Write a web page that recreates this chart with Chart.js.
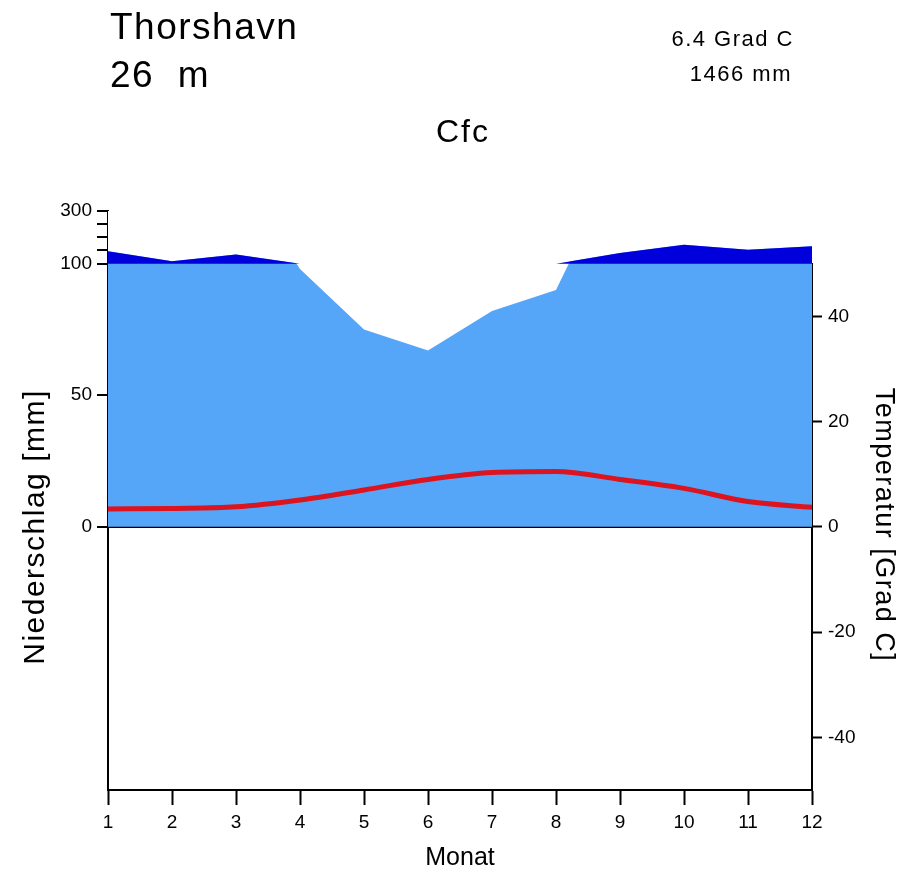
<!DOCTYPE html>
<html>
<head>
<meta charset="utf-8">
<script src="https://cdn.jsdelivr.net/npm/chart.js@4.4.1/dist/chart.umd.min.js"></script>
<style>
  html, body { margin: 0; padding: 0; background: #ffffff; }
  #wrap { width: 901px; height: 874px; position: relative; }
  canvas { display: block; }
</style>
</head>
<body>
<div id="wrap"><canvas id="c" width="901" height="874"></canvas></div>
<script>
// ---- data ----
const months = ['1','2','3','4','5','6','7','8','9','10','11','12'];
const precipitation = [147, 109, 135, 98, 75, 67, 82, 90, 140, 172, 153, 166];   // mm
const temperature   = [3.4, 3.5, 3.8, 5.1, 7.0, 9.0, 10.3, 10.5, 9.0, 7.3, 4.8, 3.7]; // °C
const precipTickValues = [0, 50, 100, 150, 200, 250, 300];
const precipTickLabels = ['0', '50', '100', '', '', '', '300'];
const tempTickValues = [-40, -20, 0, 20, 40];

const stationName = 'Thorshavn';
const elevationText = '26  m';
const meanTempText = '6.4 Grad C';
const totalPrecipText = '1466 mm';
const climateClass = 'Cfc';
const precipTitle = 'Niederschlag [mm]';
const tempTitle = 'Temperatur [Grad C]';
const monthTitle = 'Monat';

// above 100 mm the precipitation scale is compressed by a factor of 10
const PRECIP_BREAK = 100;
const COMPRESS = 10;
function toDisplay(p) { return p <= PRECIP_BREAK ? p : PRECIP_BREAK + (p - PRECIP_BREAK) / COMPRESS; }
const precipUpper = precipitation.map(p => Math.max(toDisplay(p), PRECIP_BREAK));

const LIGHT = '#55a5f8';
const DARK = '#0000dc';
const RED = '#dc1420';
const FONT = '"Liberation Sans", Arial, sans-serif';

Chart.defaults.font.family = FONT;
Chart.defaults.color = '#000';

const textPlugin = {
  id: 'textPlugin',
  afterDraw(chart) {
    const ctx = chart.ctx;
    ctx.save();
    ctx.fillStyle = '#000';
    ctx.textBaseline = 'alphabetic';
    ctx.letterSpacing = '1.5px';
    ctx.font = '37px ' + FONT;
    ctx.textAlign = 'left';
    ctx.fillText(stationName, 110, 39);
    ctx.fillText(elevationText, 110, 87);
    ctx.font = '22px ' + FONT;
    ctx.textAlign = 'right';
    ctx.fillText(meanTempText, 794, 46);
    ctx.fillText(totalPrecipText, 792, 81);
    ctx.letterSpacing = '2px';
    ctx.font = '32px ' + FONT;
    ctx.textAlign = 'center';
    ctx.fillText(climateClass, 463, 142);
    // left axis title
    ctx.letterSpacing = '1.5px';
    ctx.font = '30px ' + FONT;
    ctx.save();
    ctx.translate(44, 527);
    ctx.rotate(-Math.PI / 2);
    ctx.textAlign = 'center';
    ctx.fillText(precipTitle, 0, 0);
    ctx.restore();
    // right axis title
    ctx.font = '27px ' + FONT;
    ctx.save();
    ctx.translate(876, 525);
    ctx.rotate(Math.PI / 2);
    ctx.textAlign = 'center';
    ctx.fillText(tempTitle, 0, 0);
    ctx.restore();
    ctx.restore();
  }
};

new Chart(document.getElementById('c'), {
  type: 'line',
  data: {
    labels: months,
    datasets: [
      {
        label: 'Temperatur',
        data: temperature,
        yAxisID: 'yT',
        borderColor: RED,
        borderWidth: 5,
        pointRadius: 0,
        cubicInterpolationMode: 'monotone',
        fill: false,
        order: 0
      },
      {
        label: 'Niederschlag > 100',
        data: precipUpper,
        yAxisID: 'yP',
        borderWidth: 0,
        borderColor: 'rgba(0,0,0,0)',
        pointRadius: 0,
        backgroundColor: DARK,
        fill: { target: { value: PRECIP_BREAK } },
        order: 1
      },
      {
        label: 'mask',
        data: precipUpper,
        yAxisID: 'yP',
        borderWidth: 0,
        borderColor: 'rgba(0,0,0,0)',
        pointRadius: 0,
        backgroundColor: '#ffffff',
        fill: 'end',
        order: 2
      },
      {
        label: 'Niederschlag',
        data: precipitation,
        yAxisID: 'yP',
        borderWidth: 0,
        borderColor: 'rgba(0,0,0,0)',
        pointRadius: 0,
        backgroundColor: LIGHT,
        fill: 'origin',
        order: 3
      }
    ]
  },
  options: {
    responsive: false,
    animation: false,
    events: [],
    layout: { padding: { top: 211, left: 0, right: 0, bottom: 0 } },
    plugins: { legend: { display: false }, tooltip: { enabled: false }, title: { display: false } },
    scales: {
      x: {
        type: 'category',
        offset: false,
        z: 1,
        grid: { display: true, drawOnChartArea: false, tickLength: 15, tickColor: '#000', tickWidth: 2, offset: false },
        border: { display: true, color: '#000', width: 2 },
        ticks: { color: '#000', font: { size: 19 }, padding: 6, maxRotation: 0, autoSkip: false },
        title: { display: true, text: monthTitle, color: '#000', font: { size: 25 }, padding: { top: 0, bottom: 1 } },
        afterFit(scale) { scale.height = 84; }
      },
      yP: {
        type: 'linear',
        position: 'left',
        min: -100,
        max: 120,
        z: 1,
        afterBuildTicks(scale) { scale.ticks = precipTickValues.map(v => ({ value: toDisplay(v) })); },
        ticks: {
          color: '#000', font: { size: 19 }, padding: 5, autoSkip: false,
          callback(value, index) { return precipTickLabels[index]; }
        },
        grid: {
          display: true,
          drawOnChartArea: true,
          color: (ctx) => (ctx.tick && ctx.tick.value === 0 ? '#000' : 'rgba(0,0,0,0)'),
          lineWidth: 2,
          tickLength: 11,
          tickColor: '#000',
          tickWidth: 2
        },
        border: { display: true, color: '#000', width: 2 },
        afterFit(scale) { scale.width = 108; }
      },
      yTtop: {
        type: 'linear',
        position: 'right',
        stack: 'right',
        stackWeight: 10,
        min: 50,
        max: 60,
        z: 1,
        ticks: { display: false },
        grid: { display: false },
        border: { display: false },
        afterFit(scale) { scale.width = 89; }
      },
      yT: {
        type: 'linear',
        position: 'right',
        stack: 'right',
        stackWeight: 100,
        min: -50,
        max: 50,
        z: 1,
        afterBuildTicks(scale) { scale.ticks = tempTickValues.map(v => ({ value: v })); },
        ticks: { color: '#000', font: { size: 19 }, padding: 6, autoSkip: false },
        grid: { display: true, drawOnChartArea: false, tickLength: 10, tickColor: '#000', tickWidth: 2 },
        border: { display: true, color: '#000', width: 2 },
        afterFit(scale) { scale.width = 89; }
      }
    }
  },
  plugins: [textPlugin]
});
</script>
</body>
</html>
